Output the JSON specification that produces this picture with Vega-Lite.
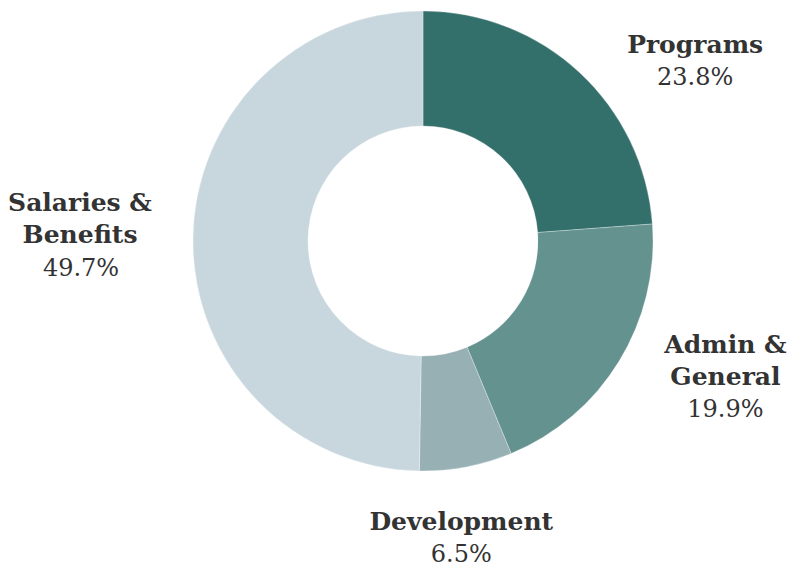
{
  "$schema": "https://vega.github.io/schema/vega-lite/v6.json",
  "width": 460,
  "height": 460,
  "autosize": {"type": "none"},
  "padding": {"left": 193, "top": 11, "right": 142, "bottom": 100},
  "background": "white",
  "view": {"stroke": null},
  "data": {
    "values": [
      {"category": "Programs", "name": "Programs", "pct": 23.8},
      {"category": "Admin & General", "name": "Admin &|General", "pct": 19.9},
      {"category": "Development", "name": "Development", "pct": 6.5},
      {"category": "Salaries & Benefits", "name": "Salaries &|Benefits", "pct": 49.7}
    ]
  },
  "transform": [
    {"window": [{"op": "row_number", "as": "rank"}]},
    {"calculate": "format(datum.pct, '.1f') + '%'", "as": "pctLabel"}
  ],
  "encoding": {
    "theta": {"field": "pct", "type": "quantitative", "stack": true},
    "order": {"field": "rank", "type": "quantitative"}
  },
  "layer": [
    {
      "mark": {"type": "arc", "outerRadius": 230, "innerRadius": 115, "stroke": "white", "strokeWidth": 0.3},
      "encoding": {
        "color": {
          "field": "category",
          "type": "nominal",
          "legend": null,
          "scale": {
            "domain": ["Programs", "Admin & General", "Development", "Salaries & Benefits"],
            "range": ["#336f6b", "#64928f", "#96b0b4", "#c8d7de"]
          }
        }
      }
    },
    {
      "mark": {
        "type": "text",
        "radius": 300,
        "font": "DejaVu Serif",
        "fontWeight": "bold",
        "fontSize": 25,
        "fill": "#333333",
        "align": "center",
        "baseline": "alphabetic",
        "lineBreak": "|",
        "lineHeight": 32,
        "dx": {"expr": "datum.category == 'Programs' ? 68 : datum.category == 'Admin & General' ? 47 : datum.category == 'Development' ? -18 : -43"},
        "dy": {"expr": "datum.category == 'Programs' ? 32 : datum.category == 'Admin & General' ? -45 : datum.category == 'Development' ? -6 : -28"}
      },
      "encoding": {"text": {"field": "name", "type": "nominal"}}
    },
    {
      "mark": {
        "type": "text",
        "radius": 300,
        "font": "DejaVu Serif",
        "fontSize": 24,
        "fill": "#333333",
        "align": "center",
        "baseline": "alphabetic",
        "dx": {"expr": "datum.category == 'Programs' ? 68 : datum.category == 'Admin & General' ? 47 : datum.category == 'Development' ? -18 : -42"},
        "dy": {"expr": "datum.category == 'Programs' ? 64 : datum.category == 'Admin & General' ? 19 : datum.category == 'Development' ? 26 : 37"}
      },
      "encoding": {"text": {"field": "pctLabel", "type": "nominal"}}
    }
  ]
}
